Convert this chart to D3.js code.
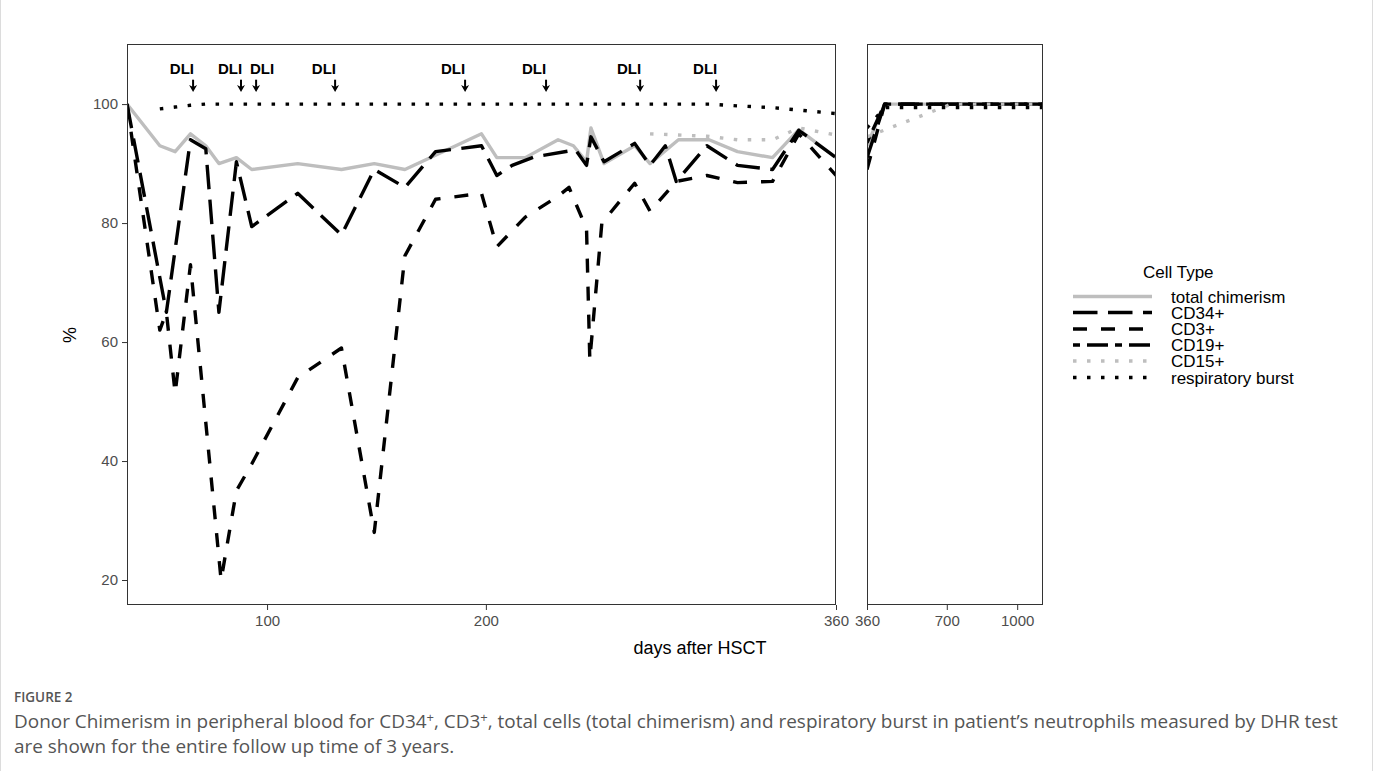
<!DOCTYPE html>
<html><head><meta charset="utf-8">
<script src="https://cdn.jsdelivr.net/npm/d3@7"></script>
<style>body{margin:0;background:#fff;} svg{display:block}</style>
</head><body>
<svg id="chart" width="1373" height="771"></svg>
<script>
// ---------------- DATA ----------------
const seriesNames = ["total chimerism","CD34+","CD3+","CD19+","CD15+","respiratory burst"];

// left facet (days 36–360)  [day, % donor]
const totalLeft = [[36,100],[51,93],[58,92],[65,95],[72,93],[78,90],[86,91],[93,89],[114,90],[134,89],[149,90],[163,89],[198,95],[205,91],[218,91],[233,94],[240,93],[246,90.3],[248,96],[254,90],[268,93],[275,90],[288,94],[302,94],[315,92],[331,91],[343,95.7],[360,91]];
const cd34Left  = [[36,100],[54,65],[65,94],[72,92.5],[78,65],[86,90.3],[93,79.4],[114,85],[134,78],[149,89],[163,86],[177,92],[198,93],[205,88],[212,89.7],[222,91.1],[241,92.3],[246,89.7],[248,94.5],[254,90.3],[268,93.4],[275,89.7],[282,93],[287,87],[301,93],[315,89.7],[331,89],[343,95.6],[360,91]];
const cd3Left   = [[36,100],[51,62],[54,65],[58,51.4],[65,73],[79,20],[86,35],[93,39.5],[114,54],[134,59],[149,28],[163,74.5],[177,84],[198,85],[205,76],[218,81],[233,84.5],[238,86],[246,79],[247.5,57],[253,80],[268,86.7],[275,82],[287,87],[301,88],[315,86.8],[331,87],[343,95],[360,88]];
const cd19Left  = [];
const cd15Left  = [[275,95],[301,94.6],[315,94],[331,94],[343,96],[360,94.8]];
const respLeft  = [[51,99.2],[58,99.5],[65,99.8],[72,100],[302,100],[315,99.7],[331,99.4],[343,99],[360,98.4]];

// right facet (days 360–1110)
const totalRight = [[360,93],[435,100],[1110,100]];
const cd34Right  = [[360,91],[435,100],[1110,100]];
const cd3Right   = [[360,89],[435,100],[1110,100]];
const cd19Right  = [[360,93.5],[435,100],[1110,100]];
const cd15Right  = [[360,94.5],[720,100],[1110,100]];
const respRight  = [[360,96],[435,99.4],[1110,99.4]];

// DLI events
const dliDays      = [66.2, 88.1, 95, 131.1, 190.5, 227.5, 270.5, 305.2];
const dliLabelDays = [61.1, 83.1, 97.7, 126, 185, 222, 265.4, 300.2];
const dliLabel = "DLI";

// tick values
const yTicks = [20,40,60,80,100];
const xTicksLeft = [100,200,360];
const xTicksRight = [360,700,1000];

// ---------------- STYLE ----------------
const seriesColors = ["#bebebe","#000000","#000000","#000000","#bebebe","#000000"];
const seriesDash = [null,[7,3],[4,4],[2,2,6,2],[1,3],[1,3]];
const lw = 3.4, dashUnit = 3.5;
const FONT = "'Liberation Sans', Arial, sans-serif";

const svg = d3.select("#chart");
const W = 1373, H = 771;

const panelTop = 44, panelBottom = 605;
const L = {x0:127, x1:836};
const R = {x0:867, x1:1043};

const y = d3.scaleLinear().domain([15.8,110.1]).range([panelBottom,panelTop]);
const xL = d3.scaleLinear().domain([36,360]).range([L.x0,L.x1]);
const xR = d3.scaleLinear().domain([360,1110]).range([R.x0,R.x1]);

const defs = svg.append("defs");
defs.append("clipPath").attr("id","clipL").append("rect")
  .attr("x",L.x0).attr("y",panelTop).attr("width",L.x1-L.x0).attr("height",panelBottom-panelTop);
defs.append("clipPath").attr("id","clipR").append("rect")
  .attr("x",R.x0).attr("y",panelTop).attr("width",R.x1-R.x0).attr("height",panelBottom-panelTop);

// outer card border (left/right)
svg.append("line").attr("x1",0.5).attr("x2",0.5).attr("y1",0).attr("y2",H).attr("stroke","#dcdcdc");
svg.append("line").attr("x1",W-0.5).attr("x2",W-0.5).attr("y1",0).attr("y2",H).attr("stroke","#dcdcdc");

const dashStr = i => seriesDash[i] ? seriesDash[i].map(v=>v*dashUnit).join(",") : null;

function drawPanel(x, clipId, data){
  const g = svg.append("g").attr("clip-path",`url(#${clipId})`);
  const line = d3.line().x(d=>x(d[0])).y(d=>y(d[1]));
  data.forEach((arr,i)=>{
    if(!arr.length) return;
    g.append("path").datum(arr).attr("d",line)
      .attr("fill","none").attr("stroke",seriesColors[i]).attr("stroke-width",lw)
      .attr("stroke-linecap","butt").attr("stroke-linejoin","round")
      .attr("stroke-dasharray",dashStr(i));
  });
}
drawPanel(xL,"clipL",[totalLeft,cd34Left,cd3Left,cd19Left,cd15Left,respLeft]);
drawPanel(xR,"clipR",[totalRight,cd34Right,cd3Right,cd19Right,cd15Right,respRight]);

// DLI annotations
const dliG = svg.append("g");
dliDays.forEach((d,i)=>{
  const ax = xL(d);
  const yTop = y(104.1), yBot = y(102.1);
  dliG.append("line").attr("x1",ax).attr("x2",ax).attr("y1",yTop).attr("y2",yBot-4)
    .attr("stroke","#000").attr("stroke-width",2);
  dliG.append("path").attr("d",`M${ax-4},${yBot-6.5}L${ax},${yBot-4.5}L${ax+4},${yBot-6.5}L${ax},${yBot+0.5}Z`).attr("fill","#000");
  dliG.append("text").attr("x",xL(dliLabelDays[i])).attr("y",y(105.05))
    .attr("text-anchor","middle").attr("font-family",FONT).attr("font-weight","bold")
    .attr("font-size",15).attr("fill","#000").text(dliLabel);
});

// panel borders
[L,R].forEach(p=>{
  svg.append("rect").attr("x",p.x0+0.5).attr("y",panelTop+0.5)
    .attr("width",p.x1-p.x0-1).attr("height",panelBottom-panelTop-1)
    .attr("fill","none").attr("stroke","#333").attr("stroke-width",1);
});

function styleAxis(g){
  g.select(".domain").remove();
  g.selectAll(".tick line").attr("stroke","#333");
  g.selectAll(".tick text").attr("fill","#4d4d4d").attr("font-family",FONT).attr("font-size",15);
}
const fmt = d3.format("d");
svg.append("g").attr("transform",`translate(${L.x0},0)`)
  .call(d3.axisLeft(y).tickValues(yTicks).tickFormat(fmt).tickSize(5).tickPadding(4)).call(styleAxis);
svg.append("g").attr("transform",`translate(0,${panelBottom})`)
  .call(d3.axisBottom(xL).tickValues(xTicksLeft).tickFormat(fmt).tickSize(5).tickPadding(5)).call(styleAxis);
svg.append("g").attr("transform",`translate(0,${panelBottom})`)
  .call(d3.axisBottom(xR).tickValues(xTicksRight).tickFormat(fmt).tickSize(5).tickPadding(5)).call(styleAxis);

// axis titles
svg.append("text").attr("x",700).attr("y",654).attr("text-anchor","middle")
  .attr("font-family",FONT).attr("font-size",18).attr("fill","#000").text("days after HSCT");
svg.append("text").attr("transform","translate(76,335) rotate(-90)").attr("text-anchor","middle")
  .attr("font-family",FONT).attr("font-size",18).attr("fill","#000").text("%");

// legend
const lg = svg.append("g");
lg.append("text").attr("x",1143).attr("y",278).attr("font-family",FONT).attr("font-size",17)
  .attr("fill","#000").text("Cell Type");
const rowY = [296.5,312.5,329,345,361,377.5];
seriesNames.forEach((n,i)=>{
  lg.append("line").attr("x1",1073).attr("x2",1152).attr("y1",rowY[i]).attr("y2",rowY[i])
    .attr("stroke",seriesColors[i]).attr("stroke-width",lw).attr("stroke-dasharray",dashStr(i));
  lg.append("text").attr("x",1171).attr("y",rowY[i]+6).attr("font-family",FONT).attr("font-size",17)
    .attr("fill","#000").text(n);
});

// caption
const CF = "'Open Sans', 'Noto Sans', sans-serif";
svg.append("text").attr("x",14).attr("y",702).attr("font-family",CF).attr("font-size",13.5)
  .attr("font-weight",600).attr("fill","#555").text("FIGURE 2");
const c1 = svg.append("text").attr("x",14).attr("y",728).attr("font-family",CF).attr("font-size",16).attr("fill","#555");
c1.append("tspan").text("Donor Chimerism in peripheral blood for CD34");
c1.append("tspan").attr("dy",-6).attr("font-size",11).text("+");
c1.append("tspan").attr("dy",6).text(", CD3");
c1.append("tspan").attr("dy",-6).attr("font-size",11).text("+");
c1.append("tspan").attr("dy",6).text(", total cells (total chimerism) and respiratory burst in patient\u2019s neutrophils measured by DHR test");
const c2 = svg.append("text").attr("x",14).attr("y",753).attr("font-family",CF).attr("font-size",16).attr("fill","#555")
  .text("are shown for the entire follow up time of 3 years.");
// fit caption width to the reference line length
const w1 = c1.node().getComputedTextLength();
const k = 1324 / w1;
const fs = 16*k;
c1.attr("font-size",fs); c1.selectAll("tspan").filter(function(){return d3.select(this).text()==="+";}).attr("font-size",11*k);
c2.attr("font-size",fs);
</script>
</body></html>
